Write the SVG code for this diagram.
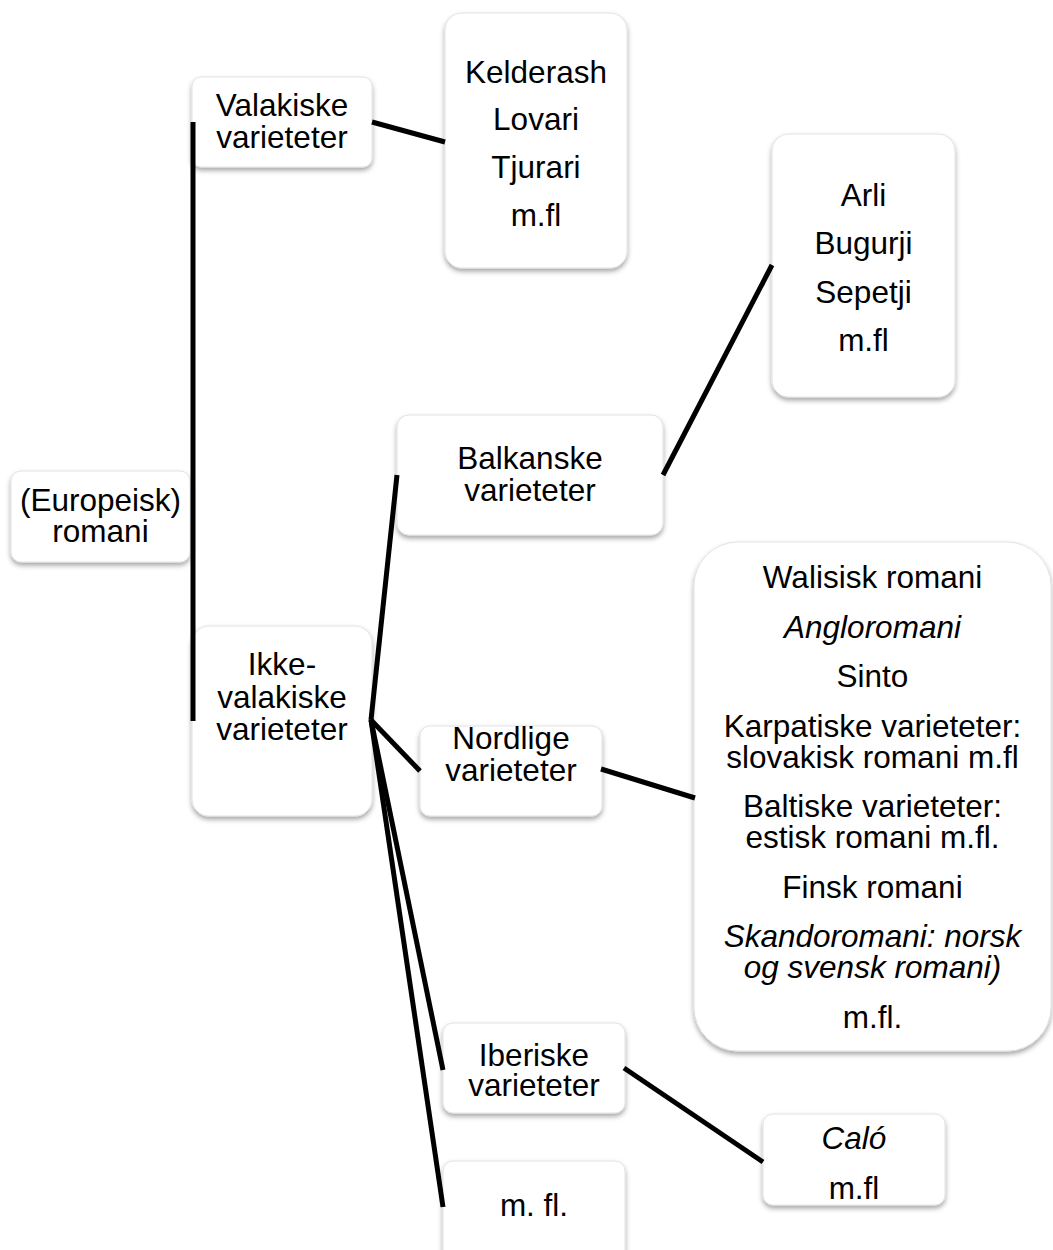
<svg xmlns="http://www.w3.org/2000/svg" width="1053" height="1250" viewBox="0 0 1053 1250">
  <defs>
    <filter id="sh" x="-10%" y="-10%" width="120%" height="125%">
      <feDropShadow dx="0" dy="3" stdDeviation="2.5" flood-color="#000" flood-opacity="0.35"/>
    </filter>
    <style>
      .box { fill: #ffffff; stroke: #e2e2e2; stroke-width: 1; filter: url(#sh); }
      .t { font-family: "Liberation Sans", Arial, Helvetica, sans-serif; font-size: 31.5px; fill: #000; text-anchor: middle; }
      .i { font-style: italic; }
      .c { stroke: #000; stroke-width: 5; fill: none; stroke-linecap: butt; }
    </style>
  </defs>
  <rect width="1053" height="1250" fill="#ffffff"/>

  <g id="node-europeisk">
    <rect class="box" x="11" y="471" width="179" height="91" rx="10"/>
    <text class="t" x="100.5" y="511">(Europeisk)</text>
    <text class="t" x="100.5" y="542">romani</text>
  </g>

  <g id="node-valakiske">
    <rect class="box" x="192" y="77" width="180" height="90" rx="9"/>
    <text class="t" x="282" y="116">Valakiske</text>
    <text class="t" x="282" y="148">varieteter</text>
  </g>

  <g id="node-kelderash">
    <rect class="box" x="445" y="13" width="182" height="255" rx="17"/>
    <text class="t" x="536" y="83">Kelderash</text>
    <text class="t" x="536" y="130">Lovari</text>
    <text class="t" x="536" y="178">Tjurari</text>
    <text class="t" x="536" y="226">m.fl</text>
  </g>

  <g id="node-ikke">
    <rect class="box" x="192" y="626" width="180" height="190" rx="17"/>
    <text class="t" x="282" y="675">Ikke-</text>
    <text class="t" x="282" y="708">valakiske</text>
    <text class="t" x="282" y="740">varieteter</text>
  </g>

  <g id="node-balkanske">
    <rect class="box" x="397" y="415" width="266" height="120" rx="12"/>
    <text class="t" x="530" y="469">Balkanske</text>
    <text class="t" x="530" y="501">varieteter</text>
  </g>

  <g id="node-arli">
    <rect class="box" x="772" y="134" width="183" height="263" rx="17"/>
    <text class="t" x="863.5" y="206">Arli</text>
    <text class="t" x="863.5" y="254">Bugurji</text>
    <text class="t" x="863.5" y="303">Sepetji</text>
    <text class="t" x="863.5" y="351">m.fl</text>
  </g>

  <g id="node-nordlige">
    <rect class="box" x="420" y="726" width="182" height="90" rx="10"/>
    <text class="t" x="511" y="749">Nordlige</text>
    <text class="t" x="511" y="781">varieteter</text>
  </g>

  <g id="node-nordlige-list">
    <rect class="box" x="694" y="542" width="357" height="509" rx="44"/>
    <text class="t" x="872.5" y="588">Walisisk romani</text>
    <text class="t i" x="872.5" y="638">Angloromani</text>
    <text class="t" x="872.5" y="687">Sinto</text>
    <text class="t" x="872.5" y="737">Karpatiske varieteter:</text>
    <text class="t" x="872.5" y="768">slovakisk romani m.fl</text>
    <text class="t" x="872.5" y="817">Baltiske varieteter:</text>
    <text class="t" x="872.5" y="848">estisk romani m.fl.</text>
    <text class="t" x="872.5" y="898">Finsk romani</text>
    <text class="t i" x="872.5" y="947">Skandoromani: norsk</text>
    <text class="t i" x="872.5" y="978">og svensk romani)</text>
    <text class="t" x="872.5" y="1028">m.fl.</text>
  </g>

  <g id="node-iberiske">
    <rect class="box" x="443" y="1023" width="182" height="90" rx="10"/>
    <text class="t" x="534" y="1066">Iberiske</text>
    <text class="t" x="534" y="1096">varieteter</text>
  </g>

  <g id="node-calo">
    <rect class="box" x="763" y="1114" width="182" height="91" rx="10"/>
    <text class="t i" x="854" y="1149">Caló</text>
    <text class="t" x="854" y="1199">m.fl</text>
  </g>

  <g id="node-mfl">
    <rect class="box" x="443" y="1161" width="182" height="110" rx="10"/>
    <text class="t" x="534" y="1216">m. fl.</text>
  </g>

  <g id="connectors">
    <line class="c" x1="193" y1="122" x2="193" y2="721"/>
    <line class="c" x1="372" y1="122" x2="445" y2="142"/>
    <line class="c" x1="371" y1="720" x2="397" y2="475"/>
    <line class="c" x1="663" y1="475" x2="772" y2="265"/>
    <line class="c" x1="371" y1="720" x2="420" y2="771"/>
    <line class="c" x1="601" y1="769" x2="695" y2="798"/>
    <line class="c" x1="371" y1="720" x2="443" y2="1070"/>
    <line class="c" x1="371" y1="720" x2="443" y2="1207"/>
    <line class="c" x1="624" y1="1068" x2="763" y2="1162"/>
  </g>
</svg>
